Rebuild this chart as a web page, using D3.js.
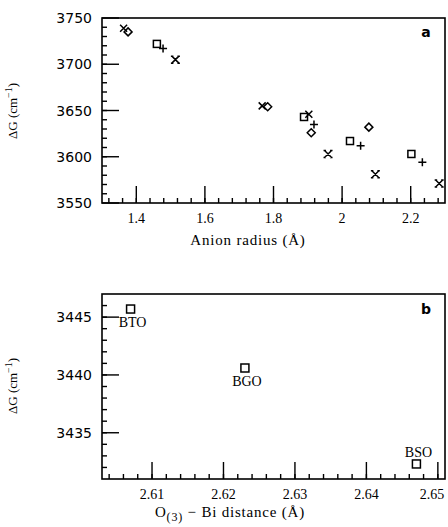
<!DOCTYPE html>
<html>
<head>
<meta charset="utf-8">
<script src="https://cdn.jsdelivr.net/npm/d3@7"></script>
</head>
<body style="margin:0">
<svg width="448" height="527"></svg>
<script>
// panel a : anion radius vs dG
var diamondX = [1.376, 1.783, 1.910, 2.078]
var diamondY = [3735, 3654, 3626, 3632]
var squareX = [1.460, 1.889, 2.023, 2.202]
var squareY = [3722, 3643, 3617, 3603]
var plusX = [1.478, 1.918, 2.054, 2.234]
var plusY = [3717, 3635, 3612, 3594]
var crossX = [1.363, 1.767, 1.903]
var crossY = [3739, 3655, 3646]
var starX = [1.514, 1.959, 2.097, 2.283]
var starY = [3705, 3603, 3581, 3571]
var xTicksA = [1.4, 1.6, 1.8, 2.0, 2.2]
var yTicksA = [3550, 3600, 3650, 3700, 3750]

// panel b : O(3)-Bi distance vs dG
var compounds = ["BTO", "BGO", "BSO"]
var distance = [2.607, 2.623, 2.647]
var dG = [3445.7, 3440.6, 3432.3]
var xTicksB = [2.61, 2.62, 2.63, 2.64, 2.65]
var yTicksB = [3435, 3440, 3445]

var svg = d3.select("svg")

var xa = d3.scaleLinear().domain([1.3, 2.3]).range([102, 445])
var ya = d3.scaleLinear().domain([3550, 3750]).range([203, 18])
var xb = d3.scaleLinear().domain([2.603, 2.651]).range([102, 445])
var yb = d3.scaleLinear().domain([3431, 3447]).range([479, 294])

var fmt = function (d) { return String(+d.toFixed(3)) }

function steps(a, b, s) {
    var out = []
    for (var i = 0; a + i * s <= b + 1e-9; i++) out.push(+(a + i * s).toFixed(4))
    return out
}

// frame + inward ticks (minor 5px, major 17px), ticks drawn as thin filled rects
function frame(x, y, xMaj, xMin, yMaj, yMin) {
    var x0 = x.range()[0], x1 = x.range()[1]
    var y0 = y.range()[0], y1 = y.range()[1]
    var g = svg.append("g").attr("fill", "#000")

    var xt = xMin.map(function (d) { return { v: d, len: 5 } })
        .concat(xMaj.map(function (d) { return { v: d, len: 17 } }))
    var yt = yMin.map(function (d) { return { v: d, len: 5 } })
        .concat(yMaj.map(function (d) { return { v: d, len: 17 } }))

    g.selectAll(".xtk").data(xt).enter().append("rect")
        .attr("class", "xtk")
        .attr("x", function (d) { return x(d.v) - 0.7 })
        .attr("y", function (d) { return y0 - d.len })
        .attr("width", 1.4)
        .attr("height", function (d) { return d.len })
    g.selectAll(".ytk").data(yt).enter().append("rect")
        .attr("class", "ytk")
        .attr("x", x0)
        .attr("y", function (d) { return y(d.v) - 0.7 })
        .attr("width", function (d) { return d.len })
        .attr("height", 1.4)

    svg.append("rect")
        .attr("x", x0).attr("y", y1)
        .attr("width", x1 - x0).attr("height", y0 - y1)
        .attr("fill", "none").attr("stroke", "#000").attr("stroke-width", 1.6)

    svg.append("g").selectAll("text").data(xMaj).enter().append("text")
        .attr("x", function (d) { return Math.min(x(d), 432) }).attr("y", y0 + 20)
        .attr("text-anchor", "middle")
        .attr("font-family", "Liberation Serif, serif").attr("font-size", 14)
        .text(fmt)
    svg.append("g").selectAll("text").data(yMaj).enter().append("text")
        .attr("x", x0 - 10).attr("y", function (d) { return y(d) + 5 })
        .attr("text-anchor", "end")
        .attr("font-family", "DejaVu Sans, sans-serif").attr("font-size", 14)
        .text(fmt)
}

frame(xa, ya, xTicksA, steps(1.32, 2.28, 0.04), yTicksA, steps(3560, 3740, 10))
frame(xb, yb, xTicksB, steps(2.604, 2.650, 0.002), yTicksB, steps(3432, 3446, 1))

// markers
var mk = svg.append("g").attr("fill", "none").attr("stroke", "#000").attr("stroke-width", 1.5)

function pts(xs, ys) { return xs.map(function (d, i) { return [d, ys[i]] }) }
function placeA(d) { return "translate(" + xa(d[0]) + "," + ya(d[1]) + ")" }

mk.selectAll(".dia").data(pts(diamondX, diamondY)).enter().append("path")
    .attr("d", "M0,-4L4,0L0,4L-4,0Z").attr("transform", placeA)
mk.selectAll(".sq").data(pts(squareX, squareY)).enter().append("rect")
    .attr("x", -3.5).attr("y", -3.5).attr("width", 7).attr("height", 7).attr("transform", placeA)
mk.selectAll(".pl").data(pts(plusX, plusY)).enter().append("path")
    .attr("d", "M-4,0H4M0,-4V4").attr("transform", placeA)
mk.selectAll(".cr").data(pts(crossX, crossY)).enter().append("path")
    .attr("d", "M-3.5,-3.5L3.5,3.5M3.5,-3.5L-3.5,3.5").attr("transform", placeA)
mk.selectAll(".st").data(pts(starX, starY)).enter().append("path")
    .attr("d", "M-3.5,-3.5L3.5,3.5M3.5,-3.5L-3.5,3.5M-4.5,-3.5H-2M2,-3.5H4.5M-4.5,3.5H-2M2,3.5H4.5")
    .attr("transform", placeA)

mk.selectAll(".bq").data(pts(distance, dG)).enter().append("rect")
    .attr("x", -4).attr("y", -4).attr("width", 8).attr("height", 8)
    .attr("transform", function (d) { return "translate(" + xb(d[0]) + "," + yb(d[1]) + ")" })

svg.append("g").selectAll("text").data(compounds).enter().append("text")
    .attr("x", function (d, i) { return xb(distance[i]) + 2 })
    .attr("y", function (d, i) { return yb(dG[i]) + (d == "BSO" ? -7 : 18) })
    .attr("text-anchor", "middle")
    .attr("font-family", "Liberation Serif, serif").attr("font-size", 14)
    .text(function (d) { return d })

// panel letters
svg.append("text").attr("x", 426).attr("y", 37).attr("text-anchor", "middle")
    .attr("font-family", "DejaVu Sans, sans-serif").attr("font-size", 14).attr("font-weight", "bold").text("a")
svg.append("text").attr("x", 426).attr("y", 314).attr("text-anchor", "middle")
    .attr("font-family", "DejaVu Sans, sans-serif").attr("font-size", 14).attr("font-weight", "bold").text("b")

// axis titles
function yTitle(cy) {
    var t = svg.append("text")
        .attr("transform", "translate(17," + cy + ") rotate(-90)")
        .attr("text-anchor", "middle")
        .attr("font-family", "Liberation Serif, serif").attr("font-size", 13)
    t.append("tspan").text("ΔG (cm")
    t.append("tspan").attr("dy", -5).attr("font-size", 10).text("−1")
    t.append("tspan").attr("dy", 5).text(")")
}
yTitle(111)
yTitle(386)

svg.append("text").attr("x", 248).attr("y", 245).attr("text-anchor", "middle")
    .attr("font-family", "Liberation Serif, serif").attr("font-size", 15)
    .attr("letter-spacing", 0.8)
    .text("Anion radius (Å)")

var xTitle = svg.append("text").attr("x", 230).attr("y", 517).attr("text-anchor", "middle")
    .attr("font-family", "Liberation Serif, serif").attr("font-size", 15)
    .attr("letter-spacing", 0.8)
xTitle.append("tspan").text("O")
xTitle.append("tspan").attr("dy", 4).attr("font-size", 12).text("(3)")
xTitle.append("tspan").attr("dy", -4).text(" − Bi distance (Å)")
</script>
</body>
</html>
